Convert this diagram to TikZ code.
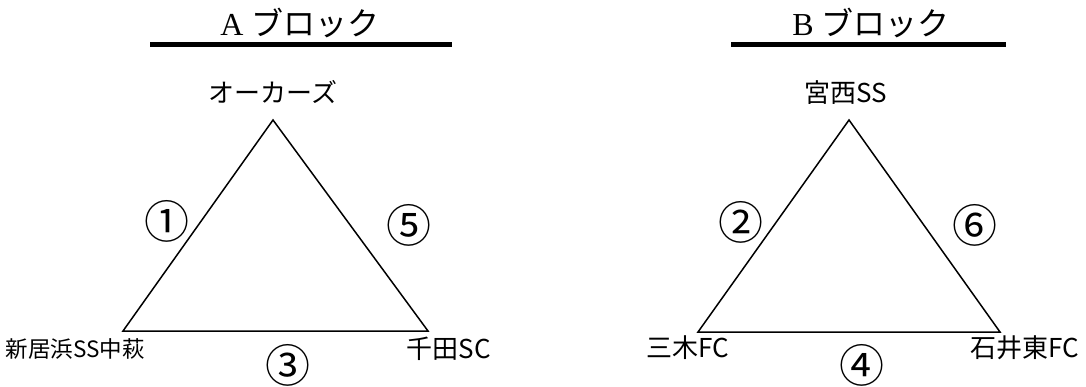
\documentclass[tikz,border=0pt]{standalone}
\usepackage{fontspec}
\setmainfont{Liberation Serif}
\newfontfamily\jpfont{Noto Sans CJK JP}
\usetikzlibrary{positioning}

\tikzset{
  team/.style={font=\jpfont\fontsize{26}{26}\selectfont, inner sep=0pt},
  smallteam/.style={font=\jpfont\fontsize{22.5}{22.5}\selectfont, inner sep=0pt},
  match/.style={font=\jpfont\fontsize{45}{45}\selectfont, inner sep=0pt},
  blocktitle/.style={font=\fontsize{32}{32}\selectfont, inner sep=0pt},
  side/.style={line width=1.5pt, line join=miter},
  bar/.style={line width=5pt},
}

\begin{document}
\begin{tikzpicture}[x=1pt,y=-1pt]
  \useasboundingbox (0,0) rectangle (1086,387);
  % Block A
  \node[blocktitle] (titleA) at (300,23) {A {\jpfont ブロック}};
  \coordinate (barAl) at (150,45);
  \coordinate (barAr) at (452,45);
  \draw[bar] (barAl) -- (barAr);
  \coordinate (topA) at (273,120);
  \coordinate (leftA) at (123,331);
  \coordinate (rightA) at (428,331);
  \draw[side] (topA) -- (leftA) -- (rightA) -- cycle;
  \node[team] (ochars) at (273,92) {オーカーズ};
  \node[smallteam] (niihama) at (75,349) {新居浜SS中萩};
  \node[team] (senda) at (449,349) {千田SC};
  \node[match] (m1) at (167,221) {①};
  \node[match] (m5) at (409,225) {⑤};
  \node[match] (m3) at (288,365) {③};
  % Block B
  \node[blocktitle] (titleB) at (871,23) {B {\jpfont ブロック}};
  \coordinate (barBl) at (731,45);
  \coordinate (barBr) at (1006,45);
  \draw[bar] (barBl) -- (barBr);
  \coordinate (topB) at (849,120);
  \coordinate (leftB) at (698,332);
  \coordinate (rightB) at (1000,332);
  \draw[side] (topB) -- (leftB) -- (rightB) -- cycle;
  \node[team] (miyanishi) at (846,93) {宮西SS};
  \node[team] (miki) at (688,348) {三木FC};
  \node[team] (ishii) at (1025,348) {石井東FC};
  \node[match] (m2) at (741,222) {②};
  \node[match] (m6) at (975,225) {⑥};
  \node[match] (m4) at (862,365) {④};
\end{tikzpicture}
\end{document}
